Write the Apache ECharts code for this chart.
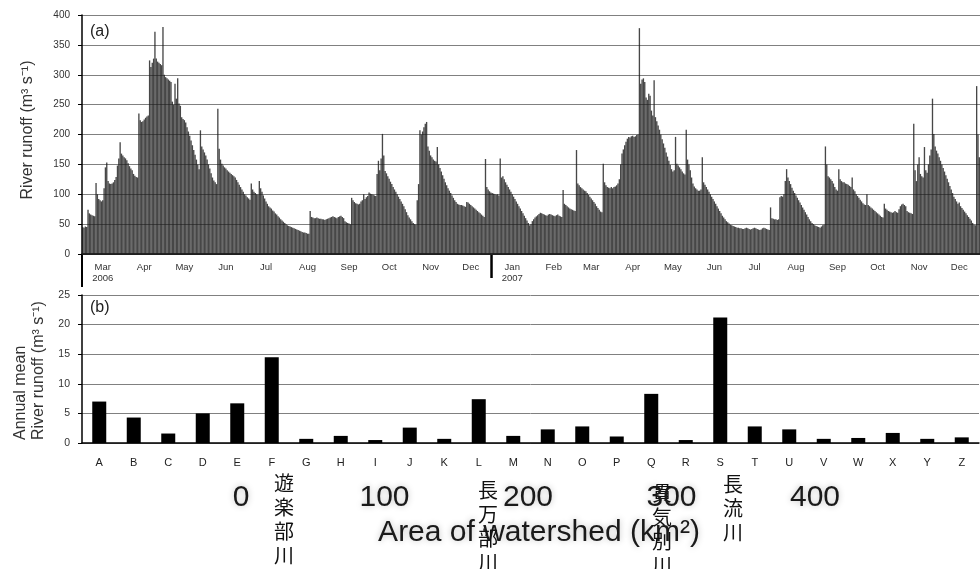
<!DOCTYPE html>
<html>
<head>
<meta charset="utf-8">
<script src="https://cdn.jsdelivr.net/npm/echarts@6/dist/echarts.min.js"></script>
<style>
html, body { margin: 0; padding: 0; background: #fff; }
#main { width: 980px; height: 569px; }
</style>
</head>
<body>
<div id="main"></div>
<script>
// (a) month tick labels, Mar 2006 - Dec 2007
var monthLabels = ['Mar', 'Apr', 'May', 'Jun', 'Jul', 'Aug', 'Sep', 'Oct', 'Nov', 'Dec',
    'Jan', 'Feb', 'Mar', 'Apr', 'May', 'Jun', 'Jul', 'Aug', 'Sep', 'Oct', 'Nov', 'Dec'];
var yearLabels = ['2006', '2007'];

// (a) daily river runoff (m3/s), one line per month
var runoff2006 = [
    45, 44, 46, 45, 74, 68, 66, 65, 64, 63, 119, 100, 92, 90, 88, 90, 110, 145, 153, 122, 118, 117, 118, 120, 124, 129, 148, 160, 187, 168, 165,
    162, 160, 157, 152, 147, 143, 140, 134, 131, 129, 128, 235, 224, 221, 222, 225, 228, 230, 232, 324, 313, 320, 327, 372, 327, 322, 320, 318, 316, 380,
    300, 296, 294, 292, 290, 288, 255, 250, 285, 260, 294, 252, 248, 229, 226, 224, 220, 212, 205, 198, 190, 182, 174, 166, 158, 150, 142, 207, 180, 175, 170,
    165, 158, 150, 143, 135, 128, 123, 120, 117, 243, 176, 158, 151, 148, 145, 143, 140, 138, 136, 134, 132, 130, 128, 124, 120, 116, 112, 108, 104, 100,
    98, 95, 93, 91, 118, 108, 104, 102, 100, 99, 122, 110, 104, 98, 93, 88, 84, 80, 78, 76, 73, 71, 68, 66, 63, 61, 58, 56, 54, 52, 50,
    48, 47, 46, 45, 44, 43, 42, 41, 40, 39, 38, 37, 36, 36, 35, 34, 34, 72, 62, 61, 60, 60, 61, 60, 59, 59, 58, 58, 57, 58, 59,
    60, 61, 62, 63, 62, 61, 60, 62, 63, 64, 62, 60, 55, 53, 52, 51, 50, 94, 90, 87, 85, 84, 83, 84, 88, 90, 100, 92, 95, 97,
    103, 101, 100, 99, 98, 97, 134, 156, 140, 160, 201, 165, 139, 135, 130, 126, 121, 117, 112, 108, 104, 100, 96, 92, 88, 84, 80, 75, 70, 65, 61,
    58, 55, 52, 50, 49, 90, 117, 207, 200, 205, 212, 218, 221, 180, 173, 165, 162, 158, 156, 155, 179, 150, 144, 138, 132, 126, 120, 115, 110, 106,
    102, 98, 94, 90, 87, 84, 83, 82, 82, 81, 80, 79, 87, 86, 84, 82, 80, 78, 76, 74, 72, 70, 68, 66, 64, 62, 159, 112, 108, 105, 103
];
var runoff2007 = [
    102, 101, 100, 99, 100, 98, 160, 128, 130, 125, 120, 116, 112, 108, 104, 100, 96, 92, 88, 84, 80, 76, 72, 68, 64, 60, 56, 52, 48, 50, 55,
    58, 61, 63, 65, 67, 69, 68, 67, 66, 65, 64, 66, 67, 66, 65, 64, 63, 65, 66, 64, 63, 62, 107, 84, 82, 80, 78, 76,
    75, 74, 73, 72, 174, 118, 115, 112, 110, 108, 106, 105, 102, 99, 96, 93, 90, 87, 84, 80, 77, 74, 71, 70, 151, 120, 115, 112, 111, 110, 112,
    110, 112, 113, 115, 118, 125, 150, 168, 175, 182, 188, 193, 196, 195, 197, 198, 196, 197, 199, 200, 378, 285, 292, 294, 288, 262, 258, 268, 265, 240,
    232, 291, 229, 222, 215, 208, 200, 192, 185, 178, 170, 163, 156, 149, 142, 138, 140, 196, 151, 148, 145, 142, 138, 135, 133, 208, 158, 150, 140, 128, 118,
    113, 110, 108, 106, 106, 108, 162, 120, 116, 112, 108, 104, 100, 96, 92, 88, 84, 80, 76, 72, 68, 64, 61, 58, 55, 53, 51, 49, 48, 47,
    46, 45, 44, 44, 43, 43, 42, 42, 43, 44, 43, 42, 41, 42, 43, 44, 43, 42, 41, 40, 41, 43, 44, 43, 42, 41, 40, 78, 60, 59, 58,
    58, 57, 58, 95, 97, 96, 100, 122, 142, 128, 122, 117, 111, 106, 102, 98, 94, 90, 86, 82, 78, 74, 70, 66, 62, 58, 55, 52, 50, 48, 47,
    46, 45, 44, 46, 48, 49, 180, 150, 130, 128, 125, 122, 118, 112, 108, 106, 142, 125, 122, 120, 120, 118, 117, 116, 114, 112, 128, 108, 105, 100,
    97, 94, 91, 88, 85, 83, 82, 100, 82, 80, 78, 76, 74, 72, 70, 68, 66, 64, 62, 61, 84, 76, 74, 72, 71, 70, 69, 70, 72, 70, 69,
    75, 80, 83, 84, 82, 80, 72, 70, 69, 68, 67, 218, 140, 122, 150, 162, 134, 130, 128, 179, 140, 136, 150, 165, 175, 260, 201, 180, 173, 168,
    162, 156, 150, 144, 138, 132, 126, 120, 114, 108, 102, 96, 92, 88, 84, 86, 80, 77, 74, 71, 68, 65, 62, 59, 56, 52, 49, 48, 281, 200, 162
];

// (b) annual mean runoff per river
var rivers = ['A', 'B', 'C', 'D', 'E', 'F', 'G', 'H', 'I', 'J', 'K', 'L', 'M',
    'N', 'O', 'P', 'Q', 'R', 'S', 'T', 'U', 'V', 'W', 'X', 'Y', 'Z'];
var annualMean = [7.0, 4.3, 1.6, 5.0, 6.7, 14.5, 0.7, 1.2, 0.5, 2.6, 0.7, 7.4, 1.2,
    2.3, 2.8, 1.1, 8.3, 0.5, 21.2, 2.8, 2.3, 0.7, 0.85, 1.7, 0.7, 0.95];

// faded watershed-area scale under the chart
var areaTicks = [0, 100, 200, 300, 400];
var riverNames = ['遊楽部川', '長万部川', '貫気別川', '長流川'];

var FONT = 'Liberation Sans, Arial, sans-serif';

// build day categories, month starts and mid-month label slots
var runoff = runoff2006.concat(runoff2007);
var days = [];
var monthStart = {}, yearStart = {}, labelAt = {};
var k = -1;
for (var i = 0; i < runoff.length; i++) {
    var d = new Date(2006, 2, 1 + i);
    days.push(d.getFullYear() + '-' + (d.getMonth() + 1) + '-' + d.getDate());
    if (d.getDate() == 1) {
        k++;
        monthStart[i] = true;
        if (i == 0 || d.getMonth() == 0) {
            yearStart[i] = true;
        }
    }
    if (d.getDate() == 16) {
        labelAt[i] = k;
    }
}

var myChart = echarts.init(document.getElementById('main'));

var cjk = '20px "Noto Sans CJK JP"';
var graphics = [{
    type : 'text', x : 90, y : 24,
    style : { text : '(a)', fill : '#222', font : '16px ' + FONT }
}, {
    type : 'text', x : 90, y : 300,
    style : { text : '(b)', fill : '#222', font : '16px ' + FONT }
}, {
    type : 'text', x : 28, y : 130, rotation : Math.PI / 2,
    style : { text : 'River runoff (m³ s⁻¹)', align : 'center', verticalAlign : 'middle', fill : '#333', font : '16px ' + FONT }
}, {
    type : 'text', x : 21, y : 440, rotation : Math.PI / 2,
    style : { text : 'Annual mean', align : 'left', verticalAlign : 'middle', fill : '#333', font : '16px ' + FONT }
}, {
    type : 'text', x : 39, y : 440, rotation : Math.PI / 2,
    style : { text : 'River runoff (m³ s⁻¹)', align : 'left', verticalAlign : 'middle', fill : '#333', font : '16px ' + FONT }
}, {
    type : 'text', x : 539, y : 533,
    style : {
        text : 'Area of watershed (km²)', align : 'center', verticalAlign : 'middle', fill : '#1a1a1a',
        font : '30px ' + FONT, textShadowColor : 'rgba(0,0,0,0.25)', textShadowBlur : 6
    }
}, {
    type : 'text', x : 284, y : 471,
    style : { text : riverNames[0].split('').join('\n'), align : 'center', verticalAlign : 'top', lineHeight : 24, fill : '#111', font : cjk }
}, {
    type : 'text', x : 488, y : 478,
    style : { text : riverNames[1].split('').join('\n'), align : 'center', verticalAlign : 'top', lineHeight : 24, fill : '#111', font : cjk }
}, {
    type : 'text', x : 662, y : 481,
    style : { text : riverNames[2].split('').join('\n'), align : 'center', verticalAlign : 'top', lineHeight : 24, fill : '#111', font : cjk }
}, {
    type : 'text', x : 733, y : 472,
    style : { text : riverNames[3].split('').join('\n'), align : 'center', verticalAlign : 'top', lineHeight : 24, fill : '#111', font : cjk }
}];

var option = {
    backgroundColor : '#fff',
    animation : false,
    grid : [{
        left : 82, top : 15, right : -1, height : 239
    }, {
        left : 82, top : 295, width : 897, height : 148
    }, {
        left : 241, right : 165, top : 470, height : 10
    }],
    xAxis : [{
        type : 'category',
        gridIndex : 0,
        data : days,
        axisLine : { lineStyle : { color : '#000', width : 1.5 } },
        axisTick : {
            interval : function(idx) { return !!monthStart[idx]; },
            length : 4,
            lineStyle : { color : '#000', width : 1.5 }
        },
        axisLabel : {
            interval : function(idx) { return labelAt[idx] !== undefined; },
            formatter : function(val, idx) {
                var m = labelAt[idx];
                var txt = monthLabels[m];
                if (m == 0) txt += '\n' + yearLabels[0];
                if (m == 10) txt += '\n' + yearLabels[1];
                return txt;
            },
            fontSize : 9.5,
            lineHeight : 11,
            margin : 8,
            color : '#333',
            fontFamily : FONT
        }
    }, {
        type : 'category',
        gridIndex : 1,
        data : rivers,
        axisLine : { lineStyle : { color : '#000', width : 1.5 } },
        axisTick : { length : 3, lineStyle : { color : '#000', width : 1.5 } },
        axisLabel : { fontSize : 11, margin : 14, color : '#222', fontFamily : FONT }
    }, {
        type : 'value',
        gridIndex : 2,
        min : 0,
        max : 400,
        interval : 100,
        axisLine : { show : false },
        axisTick : { show : false },
        splitLine : { show : false },
        axisLabel : {
            fontSize : 30,
            margin : 3,
            color : '#1a1a1a',
            fontFamily : FONT,
            textShadowColor : 'rgba(0,0,0,0.25)',
            textShadowBlur : 6
        }
    }],
    yAxis : [{
        type : 'value',
        gridIndex : 0,
        min : 0,
        max : 400,
        interval : 50,
        axisLine : { show : true, lineStyle : { color : '#000', width : 1.5 } },
        axisTick : { show : true, length : 4, lineStyle : { color : '#000' } },
        axisLabel : { fontSize : 10, margin : 12, color : '#333', fontFamily : FONT },
        splitLine : { lineStyle : { color : '#808080', width : 1 } }
    }, {
        type : 'value',
        gridIndex : 1,
        min : 0,
        max : 25,
        interval : 5,
        axisLine : { show : true, lineStyle : { color : '#000', width : 1.5 } },
        axisTick : { show : true, length : 4, lineStyle : { color : '#000' } },
        axisLabel : { fontSize : 10.5, margin : 12, color : '#333', fontFamily : FONT },
        splitLine : { lineStyle : { color : '#808080', width : 1 } }
    }, {
        type : 'value',
        gridIndex : 2,
        show : false
    }],
    series : [{
        type : 'bar',
        xAxisIndex : 0,
        yAxisIndex : 0,
        data : runoff,
        barCategoryGap : '0%',
        itemStyle : { color : 'rgba(25,25,25,0.8)' }
    }, {
        type : 'bar',
        xAxisIndex : 1,
        yAxisIndex : 1,
        data : annualMean,
        barWidth : 14,
        itemStyle : { color : '#000' }
    }],
    graphic : graphics
};
myChart.setOption(option);

// long year-separator lines below the (a) axis, placed through the axis scale
var x0 = myChart.convertToPixel({ xAxisIndex : 0 }, 0);
var band = myChart.convertToPixel({ xAxisIndex : 0 }, 1) - x0;
var axisY = myChart.convertToPixel({ yAxisIndex : 0 }, 0);
var sepLines = [];
Object.keys(yearStart).forEach(function(key) {
    var idx = +key;
    var x = myChart.convertToPixel({ xAxisIndex : 0 }, idx) - band / 2;
    sepLines.push({
        type : 'line',
        shape : { x1 : x, y1 : axisY, x2 : x, y2 : axisY + (idx == 0 ? 33 : 24) },
        style : { stroke : '#000', lineWidth : idx == 0 ? 2 : 2.5 }
    });
});
myChart.setOption({ graphic : graphics.concat(sepLines) });
</script>
</body>
</html>
